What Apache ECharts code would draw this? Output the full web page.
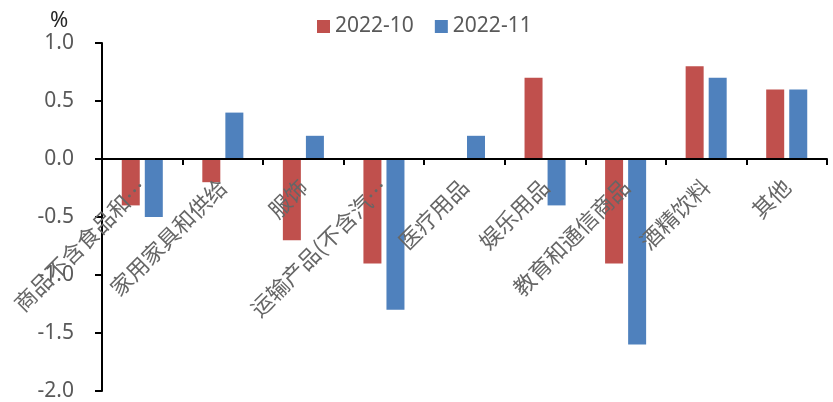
<!DOCTYPE html>
<html>
<head>
<meta charset="utf-8">
<script src="https://cdn.jsdelivr.net/npm/echarts@6/dist/echarts.min.js"></script>
<style>
  html, body { margin: 0; padding: 0; background: #fff; }
  #chart { width: 833px; height: 402px; }
</style>
</head>
<body>
<div id="chart"></div>
<script>
// Categories as shown on the axis (long names truncated)
const categories = ['商品不含食品和…', '家用家具和供给', '服饰', '运输产品(不含汽…', '医疗用品', '娱乐用品', '教育和通信商品', '酒精饮料', '其他'];
const seriesNames = ['2022-10', '2022-11'];
const values202210 = [-0.4, -0.2, -0.7, -0.9, 0.0, 0.7, -0.9, 0.8, 0.6];
const values202211 = [-0.5, 0.4, 0.2, -1.3, 0.2, -0.4, -1.6, 0.7, 0.6];
const yTicks = { min: -2.0, max: 1.0, interval: 0.5 };

const W = 833, H = 402;
const grid = { left: 102, right: 6, top: 43, bottom: 11 };
// Category axis sits on the zero line: shift it up from the grid bottom
const plotH = H - grid.top - grid.bottom;
const zeroShift = -plotH * (0 - yTicks.min) / (yTicks.max - yTicks.min);

const chart = echarts.init(document.getElementById('chart'));
chart.setOption({
  animation: false,
  backgroundColor: '#ffffff',
  title: {
    text: '%',
    left: 45, top: 5,
    textStyle: { fontSize: 22, fontWeight: 'normal', color: '#262626', fontFamily: 'Noto Sans' }
  },
  legend: {
    data: seriesNames,
    left: 312, top: 11,
    itemWidth: 13, itemHeight: 13, itemGap: 21,
    icon: 'rect',
    textStyle: { fontSize: 21, color: '#595959', fontFamily: 'Noto Sans' }
  },
  grid: Object.assign({ containLabel: false, outerBoundsMode: 'none' }, grid),
  xAxis: {
    type: 'category',
    data: categories,
    offset: zeroShift,
    axisLine: { onZero: false, lineStyle: { color: '#000', width: 2 } },
    axisTick: { show: true, length: 6, lineStyle: { color: '#000', width: 2 } },
    axisLabel: {
      interval: 0, rotate: 45, margin: 24,
      fontSize: 22, color: '#666666',
      fontFamily: 'Noto Sans CJK SC'
    },
    z: 10
  },
  yAxis: {
    type: 'value',
    min: yTicks.min, max: yTicks.max, interval: yTicks.interval,
    axisLine: { show: true, lineStyle: { color: '#000', width: 2 } },
    axisTick: { show: true, length: 7, lineStyle: { color: '#000', width: 2 } },
    splitLine: { show: false },
    axisLabel: {
      margin: 28, fontSize: 21, color: '#595959', fontFamily: 'Noto Sans',
      formatter: v => v.toFixed(1)
    }
  },
  series: [
    {
      name: seriesNames[0], type: 'bar', data: values202210,
      barWidth: 18, barGap: '28%',
      itemStyle: { color: '#C0504D' }
    },
    {
      name: seriesNames[1], type: 'bar', data: values202211,
      barWidth: 18, barGap: '28%',
      itemStyle: { color: '#4F81BD' }
    }
  ]
});
</script>
</body>
</html>
